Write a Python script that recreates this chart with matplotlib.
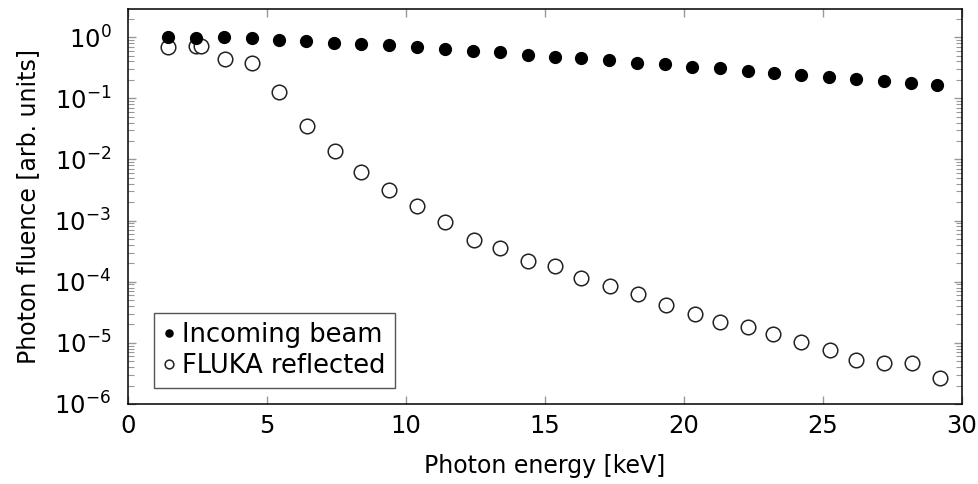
import numpy as np
import matplotlib
matplotlib.use("Agg")
import matplotlib.pyplot as plt
from matplotlib.ticker import LogLocator, NullFormatter

# incoming beam spectrum (filled)
energy_in = [1.45, 2.45, 3.45, 4.45, 5.45, 6.4, 7.4, 8.4, 9.4, 10.4,
             11.4, 12.4, 13.4, 14.4, 15.35, 16.3, 17.3, 18.3, 19.3, 20.3,
             21.3, 22.3, 23.25, 24.2, 25.2, 26.2, 27.2, 28.15, 29.1]
fluence_in = [1.0, 0.97, 1.0, 0.97, 0.89, 0.85, 0.81, 0.76, 0.73, 0.68,
              0.635, 0.60, 0.56, 0.515, 0.475, 0.448, 0.415, 0.38, 0.357, 0.33,
              0.307, 0.28, 0.26, 0.241, 0.223, 0.21, 0.19, 0.176, 0.163]

# FLUKA reflected spectrum (hollow)
energy_refl = [1.45, 2.45, 2.62, 3.5, 4.45, 5.45, 6.45, 7.45, 8.4, 9.4,
               10.4, 11.4, 12.45, 13.4, 14.4, 15.35, 16.3, 17.35, 18.35, 19.35,
               20.4, 21.3, 22.3, 23.2, 24.2, 25.25, 26.2, 27.2, 28.2, 29.2]
fluence_refl = [0.69, 0.71, 0.71, 0.44, 0.37, 0.125, 0.035, 0.0139, 0.0062, 0.0032,
                0.0017, 9.6e-4, 4.8e-4, 3.5e-4, 2.2e-4, 1.78e-4, 1.15e-4, 8.4e-5, 6.3e-5, 4.2e-5,
                2.95e-5, 2.2e-5, 1.85e-5, 1.41e-5, 1.04e-5, 7.7e-6, 5.3e-6, 4.7e-6, 4.7e-6, 2.7e-6]

plt.rcParams['font.family'] = ['DejaVu Sans']
plt.rcParams['mathtext.fontset'] = 'dejavusans'

fig = plt.figure(figsize=(9.79, 4.84), dpi=100)
ax = fig.add_axes([0.1307, 0.1653, 0.8519, 0.8161])

ax.plot(energy_in, fluence_in, 'o', color='black', markersize=8.5,
        linestyle='none', label='Incoming beam', zorder=3)
ax.plot(energy_refl, fluence_refl, 'o', markerfacecolor='white',
        markeredgecolor='#222222', markeredgewidth=1.1, markersize=10.5,
        linestyle='none', label='FLUKA reflected', zorder=2)

ax.set_yscale('log')
ax.set_xlim(0, 30)
ax.set_ylim(1e-6, 2.88)
ax.set_xticks([0, 5, 10, 15, 20, 25, 30])
ax.yaxis.set_major_locator(LogLocator(base=10, numticks=10))
ax.yaxis.set_minor_locator(LogLocator(base=10, subs=np.arange(2, 10), numticks=100))
ax.yaxis.set_minor_formatter(NullFormatter())

ax.tick_params(which='both', direction='in', top=True, right=True,
               color='#999999', labelsize=17.5)
ax.tick_params(axis='y', pad=12)
ax.tick_params(axis='x', pad=7)
ax.tick_params(which='major', length=6, width=1)
ax.tick_params(which='minor', length=4, width=0.8)
for s in ax.spines.values():
    s.set_linewidth(1.1)

ax.set_xlabel('Photon energy [keV]', fontsize=17, labelpad=12)
ax.set_ylabel('Photon fluence [arb. units]', fontsize=17, labelpad=10)

leg = ax.legend(loc='lower left', bbox_to_anchor=(0.022, 0.02), fontsize=18.5,
                fancybox=False, edgecolor='#555555', framealpha=1,
                handlelength=0.45, handletextpad=0.3, borderpad=0.35,
                labelspacing=0.2, markerscale=0.6, borderaxespad=0.3)
leg.get_frame().set_linewidth(1.0)

fig.savefig('out.png', dpi=100)
